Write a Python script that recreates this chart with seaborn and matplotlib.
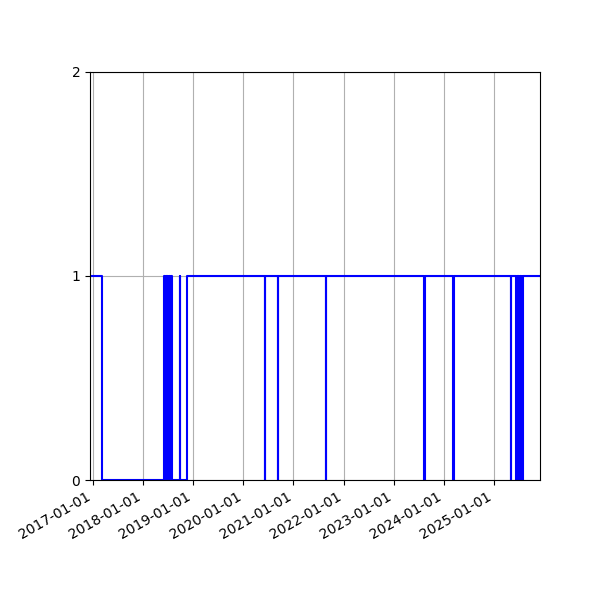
import matplotlib
matplotlib.use('Agg')
import matplotlib.pyplot as plt
import matplotlib.dates as mdates
import pandas as pd
import seaborn as sns

# change points of the on/off status (value holds until the next date)
change_dates = [
    '2016-12-08', '2017-03-06',
    '2018-06-01', '2018-06-08', '2018-06-12', '2018-06-20', '2018-06-25',
    '2018-07-03', '2018-07-08', '2018-07-15', '2018-07-19', '2018-07-27',
    '2018-09-25', '2018-09-28', '2018-11-15',
    '2020-06-05', '2020-06-10', '2020-09-08', '2020-09-10',
    '2021-08-25', '2021-08-27', '2023-08-13', '2023-08-16',
    '2024-03-09', '2024-03-15', '2025-05-05', '2025-05-07',
    '2025-06-14', '2025-06-20', '2025-06-24', '2025-07-01', '2025-07-06',
    '2025-07-13', '2025-07-18', '2025-07-25', '2025-07-29', '2025-08-04',
    '2025-12-05',
]
status = [
    1, 0,
    1, 0, 1, 0, 1,
    0, 1, 0, 1, 0,
    1, 0, 1,
    0, 1, 0, 1,
    0, 1, 0, 1,
    0, 1, 0, 1,
    0, 1, 0, 1, 0,
    1, 0, 1, 0, 1,
    1,
]

df = pd.DataFrame({'date': pd.to_datetime(change_dates), 'status': status})

fig = plt.figure(figsize=(6, 6), dpi=100)
ax = fig.add_axes([0.15, 0.2, 0.75, 0.68])
sns.lineplot(data=df, x='date', y='status', drawstyle='steps-post',
             color='blue', linewidth=1.5, ax=ax)

ax.set_xlim(df['date'].iloc[0], df['date'].iloc[-1])
ax.set_ylim(0, 2)
ax.set_yticks([0, 1, 2])
ax.xaxis.set_major_locator(mdates.YearLocator())
ax.xaxis.set_major_formatter(mdates.DateFormatter('%Y-%m-%d'))
ax.grid(True)
ax.set_xlabel('')
ax.set_ylabel('')
for lbl in ax.get_xticklabels():
    lbl.set_rotation(30)
    lbl.set_ha('right')

fig.savefig('out.png', dpi=100)
